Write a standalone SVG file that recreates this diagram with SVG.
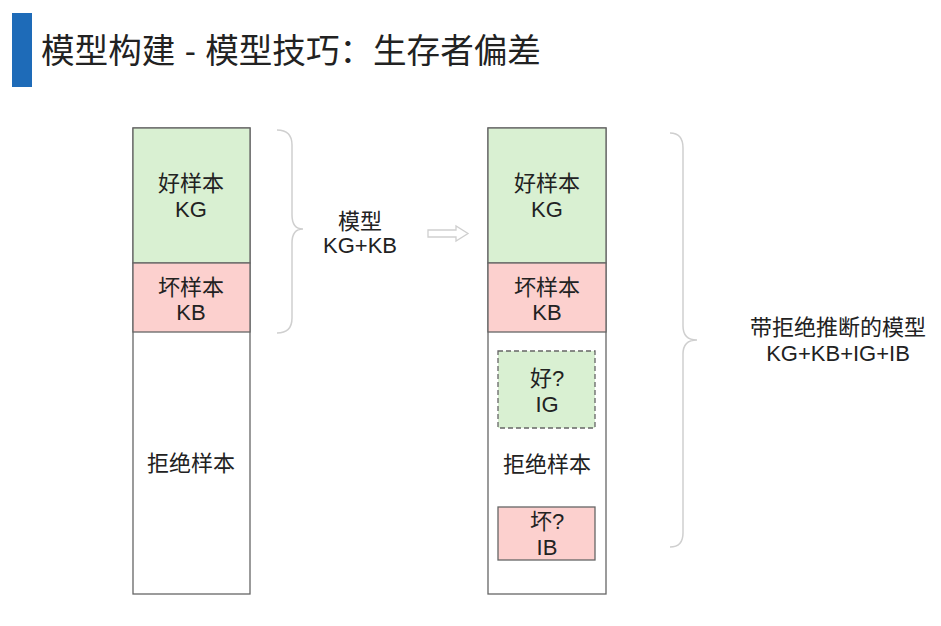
<svg xmlns="http://www.w3.org/2000/svg" width="941" height="626" viewBox="0 0 941 626">
<style>
.t{font-family:"Liberation Sans","Noto Sans CJK SC",sans-serif;font-size:22px;fill:#222;text-anchor:middle}
.title{font-family:"Liberation Sans","Noto Sans CJK SC",sans-serif;font-size:33.6px;fill:#222}
.g{fill:#d9f0d2;stroke:#666;stroke-width:1.3}
.r{fill:#fcd0ce;stroke:#666;stroke-width:1.3}
.w{fill:#fff;stroke:#666;stroke-width:1.3}
.brace{fill:none;stroke:#cfcfcf;stroke-width:1.5}
</style>
<rect width="941" height="626" fill="#fff"/>
<g id="title">
<rect x="12" y="13" width="20" height="74" fill="#1e6bb8"/>
<text class="title" x="41" y="63">模型构建 - 模型技巧：生存者偏差</text>
</g>
<g id="left-column">
<rect class="w" x="133" y="128" width="117" height="466"/>
<rect class="g" x="133" y="128" width="117" height="135"/>
<rect class="r" x="133" y="263" width="117" height="69"/>
<text class="t" x="191" y="191">好样本</text>
<text class="t" x="191" y="217">KG</text>
<text class="t" x="191" y="295">坏样本</text>
<text class="t" x="191" y="320">KB</text>
<text class="t" x="191" y="471">拒绝样本</text>
</g>
<g id="left-label">
<text class="t" x="360" y="229">模型</text>
<text class="t" x="360" y="253">KG+KB</text>
</g>
<g id="right-column">
<rect class="w" x="488" y="128" width="118" height="466"/>
<rect class="g" x="488" y="128" width="118" height="135"/>
<rect class="r" x="488" y="263" width="118" height="69"/>
<text class="t" x="547" y="191">好样本</text>
<text class="t" x="547" y="217">KG</text>
<text class="t" x="547" y="295">坏样本</text>
<text class="t" x="547" y="320">KB</text>
<rect class="g" x="498" y="351" width="97" height="77" stroke-dasharray="5 3"/>
<text class="t" x="547" y="386">好?</text>
<text class="t" x="547" y="412">IG</text>
<text class="t" x="547" y="472">拒绝样本</text>
<rect class="r" x="498" y="507" width="97" height="53"/>
<text class="t" x="547" y="529">坏?</text>
<text class="t" x="547" y="555">IB</text>
</g>
<g id="right-label">
<text class="t" x="838" y="335">带拒绝推断的模型</text>
<text class="t" x="838" y="361">KG+KB+IG+IB</text>
</g>
<g id="connectors">
<path class="brace" d="M277,130 Q292,130 292,145 L292,215 Q292,229 303,229 Q292,229 292,243 L292,318 Q292,333 277,333"/>
<path class="brace" d="M670,133 Q683,133 683,148 L683,326 Q683,340 697,340 Q683,340 683,354 L683,533 Q683,547 670,547"/>
<path d="M428,230 L456,230 L456,226 L468,233.5 L456,241 L456,237 L428,237 Z" fill="#fff" stroke="#cfcfcf" stroke-width="1.3"/>
</g>
</svg>
